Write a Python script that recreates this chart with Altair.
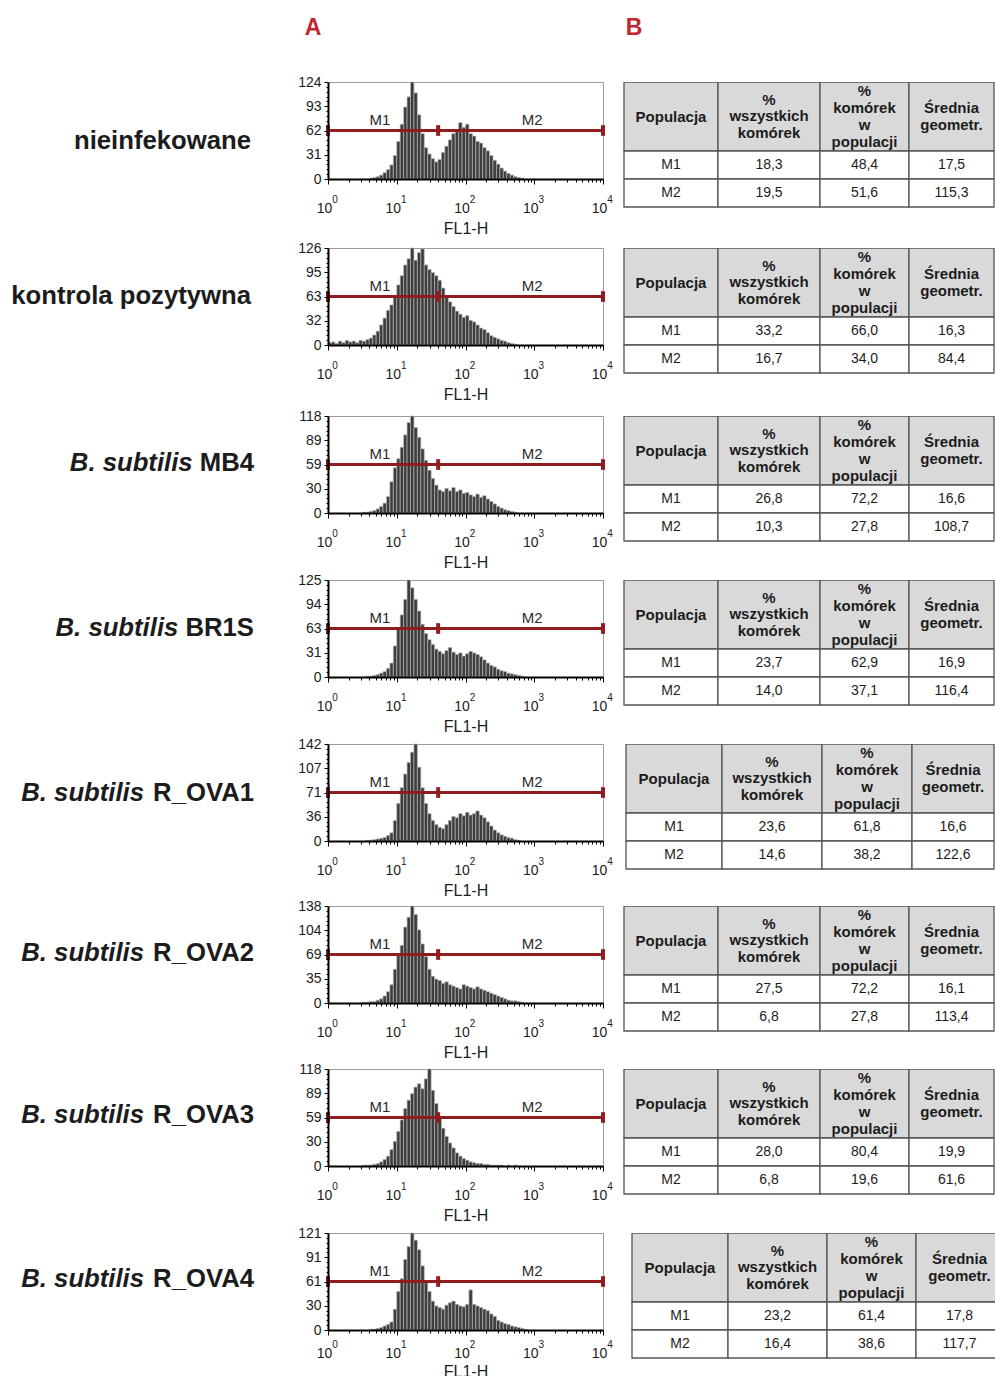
import json
import altair as alt
import pandas as pd

FONT = "Liberation Sans"

# ---- samples (one row of the figure each) ----
sample_species = [None, None, "B. subtilis", "B. subtilis", "B. subtilis",
                  "B. subtilis", "B. subtilis", "B. subtilis"]
sample_names = ["nieinfekowane", "kontrola pozytywna", "MB4", "BR1S",
                "R_OVA1", "R_OVA2", "R_OVA3", "R_OVA4"]

# ---- FL1-H histograms: events per 1/20-decade channel, starting at 10^0 ----
BIN = 0.05
counts_nieinfekowane = [0, 0, 0, 0, 0, 0, 0, 0, 0, 0, 0, 0, 1, 2, 3, 5, 8, 12, 18, 30,
                        48, 70, 92, 105, 124, 110, 82, 58, 40, 32, 26, 22, 25, 34, 42, 50, 58, 62, 72, 66,
                        70, 58, 55, 48, 46, 40, 36, 30, 24, 19, 14, 10, 7, 5, 3, 2, 1, 0, 0, 0]
counts_kontrola = [3, 4, 2, 5, 3, 6, 4, 5, 3, 6, 5, 7, 9, 13, 18, 26, 35, 45, 52, 62,
                   78, 90, 104, 112, 126, 110, 120, 125, 104, 98, 94, 90, 84, 74, 64, 56, 50, 44, 40, 36,
                   38, 32, 30, 26, 22, 20, 16, 12, 10, 8, 6, 5, 3, 2, 1, 0, 0, 0, 0, 0]
counts_mb4 = [0, 0, 0, 0, 0, 0, 0, 0, 0, 0, 1, 1, 2, 3, 5, 8, 12, 20, 38, 55,
              66, 80, 95, 110, 118, 104, 92, 78, 64, 52, 42, 34, 28, 26, 30, 27, 31, 26, 28, 24,
              25, 22, 20, 23, 19, 21, 17, 14, 11, 8, 6, 4, 3, 2, 1, 0, 0, 0, 0, 0]
counts_br1s = [0, 0, 0, 0, 0, 0, 0, 0, 0, 0, 0, 1, 1, 2, 3, 5, 7, 11, 18, 40,
               62, 80, 100, 125, 115, 100, 85, 68, 56, 48, 42, 36, 33, 30, 34, 38, 32, 29, 31, 27,
               30, 33, 31, 29, 26, 22, 18, 15, 13, 10, 8, 7, 5, 4, 3, 2, 1, 0, 0, 0]
counts_rova1 = [0, 0, 0, 0, 0, 0, 0, 0, 0, 0, 0, 1, 1, 2, 3, 4, 5, 8, 12, 30,
                55, 78, 98, 115, 130, 142, 108, 78, 55, 40, 30, 24, 20, 18, 24, 30, 36, 34, 40, 37,
                42, 38, 40, 44, 38, 34, 28, 22, 16, 12, 9, 7, 5, 4, 2, 1, 0, 0, 0, 0]
counts_rova2 = [0, 0, 0, 0, 0, 0, 0, 0, 0, 0, 1, 1, 2, 2, 4, 6, 10, 16, 26, 48,
                68, 82, 108, 122, 138, 126, 104, 84, 66, 48, 38, 34, 32, 28, 30, 26, 24, 22, 20, 26,
                24, 22, 20, 23, 20, 18, 16, 14, 12, 10, 8, 6, 4, 3, 3, 2, 1, 0, 0, 0]
counts_rova3 = [0, 0, 0, 0, 0, 0, 0, 0, 0, 0, 1, 1, 1, 2, 3, 5, 8, 12, 20, 30,
                42, 56, 70, 80, 88, 96, 100, 94, 106, 118, 92, 76, 60, 46, 36, 28, 22, 16, 12, 9,
                7, 5, 4, 3, 3, 2, 2, 1, 1, 1, 1, 0, 1, 0, 1, 0, 0, 0, 0, 0]
counts_rova4 = [0, 0, 0, 0, 0, 0, 0, 0, 0, 0, 0, 0, 1, 1, 2, 3, 5, 7, 10, 26,
                48, 64, 88, 104, 121, 112, 100, 80, 62, 48, 36, 30, 28, 26, 31, 34, 36, 32, 30, 29,
                32, 50, 32, 30, 28, 26, 24, 20, 17, 12, 10, 8, 7, 5, 4, 3, 2, 1, 0, 0]
hist_counts = [counts_nieinfekowane, counts_kontrola, counts_mb4, counts_br1s,
               counts_rova1, counts_rova2, counts_rova3, counts_rova4]
y_max = [124, 126, 118, 125, 142, 138, 118, 121]

# decade ticks of the FL1-H axis and their exponents
decades = [1, 10, 100, 1000, 10000]
exponents = ["0", "1", "2", "3", "4"]

# ---- markers ----
gate_names = ["M1", "M2"]
gate_edges = [1, 40, 10000]
gate_label_x = [5.7, 930]

# ---- statistics tables ----
pct_all = [[18.3, 19.5], [33.2, 16.7], [26.8, 10.3], [23.7, 14.0],
           [23.6, 14.6], [27.5, 6.8], [28.0, 6.8], [23.2, 16.4]]
pct_pop = [[48.4, 51.6], [66.0, 34.0], [72.2, 27.8], [62.9, 37.1],
           [61.8, 38.2], [72.2, 27.8], [80.4, 19.6], [61.4, 38.6]]
geo_mean = [[17.5, 115.3], [16.3, 84.4], [16.6, 108.7], [16.9, 116.4],
            [16.6, 122.6], [16.1, 113.4], [19.9, 61.6], [17.8, 117.7]]
header_cells = ["Populacja", "%\nwszystkich\nkomórek", "%\nkomórek\nw\npopulacji", "Średnia\ngeometr."]

# ---- layout ----
COL1_W, HIST_W, TABLE_W = 328, 275, 392
HIST_H = 97
HEAD_H = 82
ROW_H = [166, 168, 164, 164, 162, 163, 164, 143]
LABEL_Y = [59, 48, 47, 48, 49, 47, 46, 46]
LABEL_RIGHT = [251, 251, 254, 254, 254, 254, 254, 254]
LABEL_SIZE = 25.7
X_LABEL_PAD = [17, 17, 17, 17, 17, 17, 17, 11]
EXP_Y = [21, 21, 21, 21, 21, 21, 21, 15]
TITLE_PAD = [5, 5, 5, 5, 5, 5, 5, 3]
TABLE_H = 127
TABLE_ROWS = [0, 69, 97, 125]
HEAD_LH = 16.8
_std_cols = [21, 115, 217, 306, 391]
TABLE_COLS = [_std_cols, _std_cols, _std_cols, _std_cols,
              [23, 119, 219, 309, 391], _std_cols, _std_cols,
              [29, 125, 224, 313, 400]]
MARKER = "#911c20"
INK = "#1c1c1c"

# Arial/Liberation Sans Bold advance widths (per 1000 em) for the strain names
ARIAL_BOLD = {"M": 833, "B": 722, "R": 722, "S": 667, "_": 556, "O": 778,
              "V": 667, "A": 722, " ": 278}


def text_width(s, size):
    return sum(ARIAL_BOLD.get(c, 556) for c in s) * size / 1000


def fmt(v):
    return f"{v:.1f}".replace(".", ",")


def letter_cell(letter, x, width):
    return alt.Chart(alt.Data(values=[{"t": letter}])).mark_text(
        font=FONT, fontSize=23, fontWeight="bold", color="#c1272d",
        align="center", baseline="middle"
    ).encode(text="t:N", x=alt.value(x), y=alt.value(28)).properties(width=width, height=HEAD_H)


def label_cell(i):
    style = dict(font=FONT, fontSize=LABEL_SIZE, fontWeight="bold", baseline="middle",
                 align="right", color=INK)
    y = LABEL_Y[i]
    right = LABEL_RIGHT[i]
    layers = [alt.Chart(alt.Data(values=[{"t": sample_names[i]}])).mark_text(**style).encode(
        text="t:N", x=alt.value(right), y=alt.value(y))]
    if sample_species[i]:
        xr = right - text_width(sample_names[i] + " ", LABEL_SIZE)
        layers.append(alt.Chart(alt.Data(values=[{"t": sample_species[i]}])).mark_text(
            fontStyle="italic", **style).encode(text="t:N", x=alt.value(xr), y=alt.value(y)))
    return alt.layer(*layers).properties(width=COL1_W, height=ROW_H[i])


X_TICKS = sorted(set([k * 10 ** d for d in range(4) for k in range(1, 10)] + [10000]))
X_MAJOR_TEST = f"indexof({json.dumps(decades)}, datum.value) >= 0"


def hist_cell(i):
    counts = hist_counts[i]
    ymax = y_max[i]
    level = ymax / 2
    bins = pd.DataFrame({
        "lo": [10 ** (k * BIN) for k in range(len(counts))],
        "hi": [10 ** ((k + 1) * BIN) for k in range(len(counts))],
        "n": counts,
    })
    bins = bins[bins.n > 0].assign(base=0)

    y_ticks = [ymax * k / 20 for k in range(21)]
    y_major = y_ticks[::5]
    y_test = f"indexof({json.dumps(y_major)}, datum.value) >= 0"

    xscale = alt.Scale(type="log", domain=[1, 10000], nice=False)
    yscale = alt.Scale(domain=[0, ymax], nice=False, zero=True)
    xaxis = alt.Axis(values=X_TICKS, labelExpr=f"{X_MAJOR_TEST} ? '10' : ''",
                     labelFlush=False, labelOverlap=False, labelOffset=-4,
                     grid=False, domainColor="black", domainWidth=2, tickColor="black",
                     tickSize={"condition": {"test": X_MAJOR_TEST, "value": 5}, "value": 3},
                     labelFont=FONT, labelFontSize=14, labelColor=INK,
                     labelPadding=X_LABEL_PAD[i],
                     titleFont=FONT, titleFontSize=16, titleFontWeight="normal", titleColor=INK,
                     titlePadding=TITLE_PAD[i], zindex=1)
    yaxis = alt.Axis(values=y_ticks, labelExpr=f"{y_test} ? format(round(datum.value), 'd') : ''",
                     labelOverlap=False, grid=False, domainColor="black", domainWidth=2,
                     tickColor="black",
                     tickSize={"condition": {"test": y_test, "value": 4}, "value": 2},
                     labelFont=FONT, labelFontSize=14, labelColor=INK, labelPadding=3, zindex=1)

    def X(field):
        return alt.X(field, scale=xscale, axis=xaxis, title="FL1-H")

    def Y(field):
        return alt.Y(field, scale=yscale, axis=yaxis, title=None)

    bars = alt.Chart(bins).mark_bar(color="#3d3d3d", stroke="#b4b4b4", strokeWidth=0.7).encode(
        x=X("lo:Q"), x2="hi:Q", y=Y("n:Q"), y2="base:Q")

    # exponents of the decade labels (10 with a raised power)
    powers = alt.Chart(pd.DataFrame({"v": decades, "e": exponents})).mark_text(
        font=FONT, fontSize=10, color=INK, baseline="middle", align="center", dx=7
    ).encode(x=X("v:Q"), y=alt.value(HIST_H + EXP_Y[i]), text="e:N")

    gates = pd.DataFrame({"lo": gate_edges[:-1], "hi": gate_edges[1:], "level": [level] * 2,
                          "name": gate_names, "lx": gate_label_x})
    line = alt.Chart(gates).mark_rule(color=MARKER, strokeWidth=3).encode(
        x=X("lo:Q"), x2="hi:Q", y=Y("level:Q"))
    ends = pd.DataFrame({"x": gate_edges, "y0": [level - ymax * 0.055] * 3,
                         "y1": [level + ymax * 0.055] * 3})
    end_ticks = alt.Chart(ends).mark_rule(color=MARKER, strokeWidth=4).encode(
        x=X("x:Q"), y=Y("y0:Q"), y2="y1:Q")
    names = alt.Chart(gates).mark_text(font=FONT, fontSize=15, color="#2a2a2a", baseline="middle",
                                       dy=-11).encode(x=X("lx:Q"), y=Y("level:Q"), text="name:N")

    return alt.layer(bars, powers, line, end_ticks, names).properties(
        width=HIST_W, height=HIST_H,
        view=alt.ViewBackground(stroke="#9c9c9c", strokeWidth=1))


def table_cell(i):
    cols = TABLE_COLS[i]
    recs = []
    for c in range(4):
        recs.append({"x0": cols[c], "x1": cols[c + 1], "y0": TABLE_ROWS[0], "y1": TABLE_ROWS[1],
                     "kind": "head", "t": header_cells[c],
                     "nl": header_cells[c].count("\n") + 1})
    for r in range(2):
        vals = [gate_names[r], fmt(pct_all[i][r]), fmt(pct_pop[i][r]), fmt(geo_mean[i][r])]
        for c in range(4):
            recs.append({"x0": cols[c], "x1": cols[c + 1], "y0": TABLE_ROWS[r + 1],
                         "y1": TABLE_ROWS[r + 2], "kind": "body", "t": vals[c], "nl": 1})
    df = pd.DataFrame(recs)
    xs = alt.Scale(domain=[0, TABLE_W], nice=False, zero=False)
    ys = alt.Scale(domain=[0, TABLE_H], nice=False, zero=False, reverse=True)
    rects = alt.Chart(df).mark_rect(stroke="#555555", strokeWidth=1.3, clip=True).encode(
        x=alt.X("x0:Q", scale=xs, axis=None), x2="x1:Q",
        y=alt.Y("y0:Q", scale=ys, axis=None), y2="y1:Q",
        fill=alt.Fill("kind:N", scale=alt.Scale(domain=["head", "body"],
                                                range=["#d9d9d9", "#ffffff"]), legend=None))
    # first line of a multi-line cell sits above the centre by half the block height
    base = alt.Chart(df).transform_calculate(
        xc="(datum.x0 + datum.x1) / 2",
        yc=f"(datum.y0 + datum.y1) / 2 - (datum.nl - 1) * {HEAD_LH} / 2")
    enc = dict(x=alt.X("xc:Q", scale=xs, axis=None), y=alt.Y("yc:Q", scale=ys, axis=None),
               text="t:N")
    head = base.transform_filter("datum.kind == 'head'").mark_text(
        font=FONT, fontSize=15, fontWeight="bold", lineBreak="\n", lineHeight=HEAD_LH,
        baseline="middle", color=INK, clip=True).encode(**enc)
    body = base.transform_filter("datum.kind == 'body'").mark_text(
        font=FONT, fontSize=14, baseline="middle", color=INK, clip=True).encode(**enc)
    return alt.layer(rects, head, body).properties(width=TABLE_W, height=TABLE_H)


cells = [letter_cell("A", 313, COL1_W), letter_cell("", 0, HIST_W), letter_cell("B", 31, TABLE_W)]
for i in range(len(sample_names)):
    cells += [label_cell(i), hist_cell(i), table_cell(i)]

chart = alt.concat(*cells, columns=3).properties(
    spacing=0, bounds="flush", align="each", padding=0
).configure(font=FONT, background="white").configure_view(stroke="transparent", strokeWidth=0)

chart.save("out.html", embed_options={"renderer": "svg", "actions": False})
